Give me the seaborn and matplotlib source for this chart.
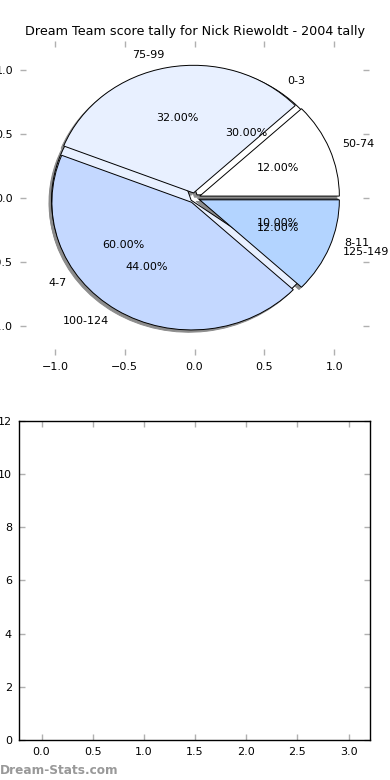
import matplotlib
matplotlib.use('Agg')
import matplotlib.pyplot as plt
import seaborn as sns

sns.set_theme(style='white')
plt.rcParams['font.family'] = ['DejaVu Sans']
plt.rcParams['text.color'] = 'black'
plt.rcParams['xtick.labelcolor'] = 'black'
plt.rcParams['ytick.labelcolor'] = 'black'

# goals kicked per game (tally) and dream team score ranges
tally_labels = ['0-3', '4-7', '8-11']
tally_values = [30, 60, 10]
score_labels = ['50-74', '75-99', '100-124', '125-149']
score_values = [12, 32, 44, 12]
pie_colors = ['white', '#e8f0ff', '#c4d8ff', '#b3d4ff']
pie_ticks = [-1.0, -0.5, 0.0, 0.5, 1.0]
empty_xticks = [0.0, 0.5, 1.0, 1.5, 2.0, 2.5, 3.0]
empty_yticks = [0, 2, 4, 6, 8, 10, 12]

fig = plt.figure(figsize=(3.9, 7.8), dpi=100)
ax1 = fig.add_axes([0.0513, 0.5449, 0.895, 0.4026])
ax2 = fig.add_axes([0.0487, 0.0513, 0.9, 0.409])

shade = dict(ox=-0.013, oy=-0.013, facecolor='0.55', edgecolor='0.55', alpha=1)
wprops = dict(edgecolor='black', linewidth=0.7)
ax1.pie(tally_values, labels=tally_labels, colors=pie_colors[:3], explode=[0.03] * 3,
        autopct='%1.2f%%', shadow=shade, wedgeprops=wprops, frame=True,
        textprops=dict(fontsize=8, color='black'))
ax1.pie(score_values, labels=score_labels, colors=pie_colors, explode=[0.04] * 4,
        autopct='%1.2f%%', shadow=shade, wedgeprops=wprops, frame=True,
        textprops=dict(fontsize=8, color='black'))
ax1.set_aspect('auto')
ax1.set_xlim(-1.25, 1.25)
ax1.set_ylim(-1.23, 1.23)
ax1.set_xticks(pie_ticks)
ax1.set_yticks(pie_ticks)
for s in ax1.spines.values():
    s.set_visible(False)
ax1.set_title('Dream Team score tally for Nick Riewoldt - 2004 tally',
              fontsize=9.2, pad=4.5, color='black')

ax2.set_xlim(-0.22, 3.21)
ax2.set_ylim(0, 12)
ax2.set_xticks(empty_xticks)
ax2.set_yticks(empty_yticks)
for s in ax2.spines.values():
    s.set_color('black')
    s.set_linewidth(1)

for ax in (ax1, ax2):
    ax.tick_params(direction='in', length=4, width=1, color='#b0b0b0',
                   top=True, right=True, bottom=True, left=True,
                   labelsize=8, labelcolor='black', pad=5)

fig.text(0.0, 0.008, 'Dream-Stats.com', color='#999999', fontsize=8.7,
         fontweight='bold')

fig.savefig('out.png', dpi=100)
